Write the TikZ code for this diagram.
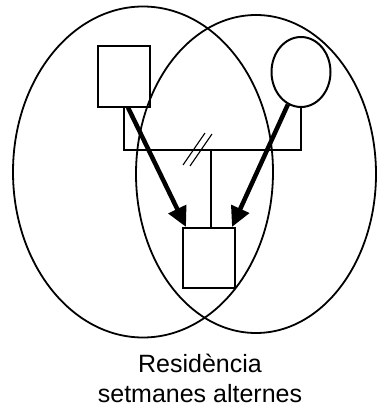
\documentclass[tikz,border=0pt]{standalone}
\usepackage{fontspec}
\setmainfont{Liberation Sans}
\usetikzlibrary{arrows.meta, positioning, shapes.geometric}
\tikzstyle{house} = [ellipse, draw, line width=1.8pt, inner sep=0pt]
\tikzstyle{male} = [rectangle, draw, line width=2pt, minimum width=52pt,
  minimum height=61pt, inner sep=0pt]
\tikzstyle{female} = [ellipse, draw, line width=2pt, minimum width=59pt,
  minimum height=70pt, inner sep=0pt]
\tikzstyle{link} = [line width=2pt]
\tikzstyle{arrow} = [line width=4.5pt, -{Triangle[length=20pt, width=19pt]}]

\begin{document}
\begin{tikzpicture}[x=1pt, y=-1pt]
    \useasboundingbox (0,0) rectangle (376,407);
    \node[house, minimum width=260pt, minimum height=331pt] (home1) at (143,172) {};
    \node[house, minimum width=240pt, minimum height=318pt] (home2) at (256,174) {};
    \node[male] (father) at (124,76) {};
    \node[female] (mother) at (301,72) {};
    \node[male, minimum height=60pt] (child) at (209,258) {};
    \coordinate (split) at (211,150);
    \coordinate (cut) at (198,150);
    \draw[link] (father.south) |- (split) -| (mother.south);
    \draw[link] (split) -- (split |- child.north);
    % divorce mark
    \draw[line width=1.1pt] ([shift={(-15,15)}]cut) -- ++(22,-32);
    \draw[line width=1.1pt] ([shift={(-8,16)}]cut) -- ++(22,-32);
    \draw[arrow] ([xshift=4pt]father.south) -- ([xshift=-23pt]child.north);
    \draw[arrow] (mother.248) -- ([xshift=23pt]child.north);
    \node[font=\fontsize{25}{30}\selectfont, align=center] (label) at (200,378)
      {Residència\\setmanes alternes};
  \end{tikzpicture}
\end{document}
